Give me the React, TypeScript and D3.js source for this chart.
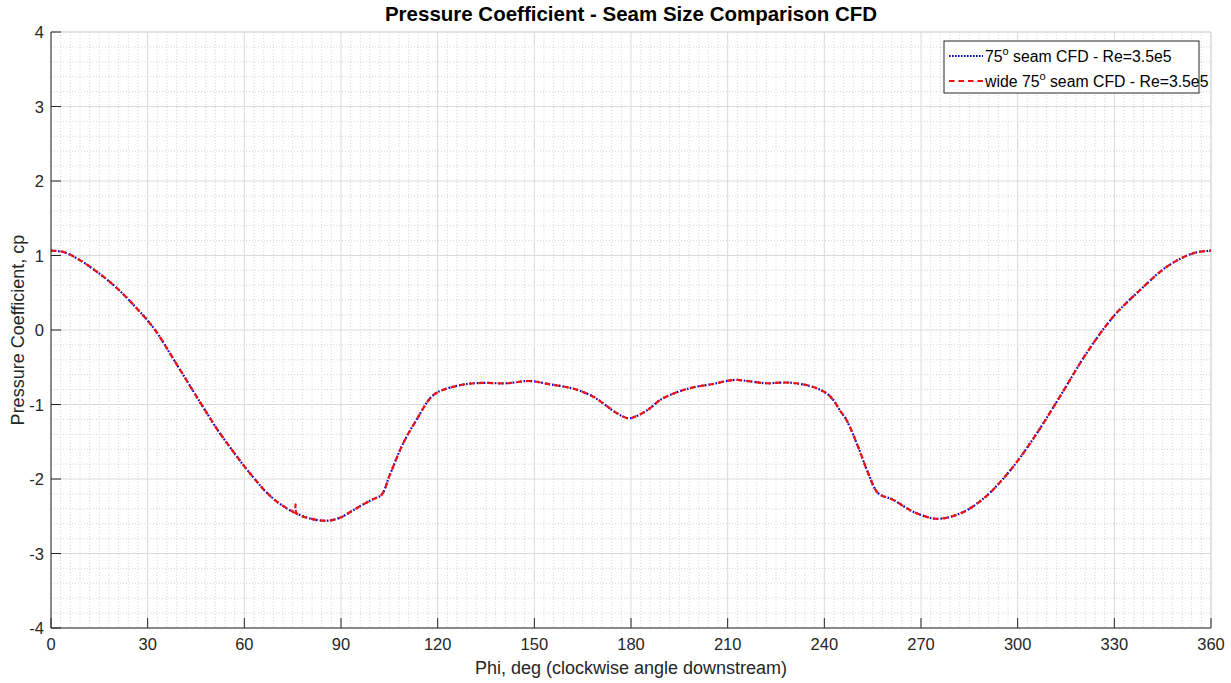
import React from "react";
import * as d3 from "d3";

// Circumferential angle (deg) and pressure coefficient samples
const phiStd: number[] = [
  0, 4, 8.5, 14, 20, 26, 32.3, 38, 43.7, 48, 52, 56, 60, 64, 66, 70, 74.7, 80.4, 85.6, 89.7,
  93, 96.9, 100, 102.6, 105.2, 109.3, 113.5, 117.6, 120.2, 125.9, 130, 134.2, 141.4, 147.6, 150,
  154.9, 158, 163.1, 168.3, 171.4, 175, 179.2, 182, 185.9, 189, 194, 199.3, 205.5, 209, 212.8,
  217, 222.1, 226.2, 229.3, 235.5, 238.5, 240.7, 242.8, 244.7, 246.9, 250.5, 253.6, 256.7, 261.4,
  267.6, 273.8, 276.5, 279, 284.2, 288.3, 292, 298.7, 305.9, 313.1, 321.4, 329.7, 338, 346.3,
  354.5, 360,
];
const cpStd: number[] = [
  1.065, 1.045, 0.95, 0.79, 0.58, 0.32, 0.0, -0.39, -0.79, -1.09, -1.36, -1.6, -1.83, -2.04, -2.14,
  -2.3, -2.43, -2.53, -2.56, -2.52, -2.44, -2.34, -2.27, -2.21, -1.94, -1.52, -1.2, -0.92, -0.83,
  -0.75, -0.72, -0.71, -0.715, -0.685, -0.69, -0.73, -0.75, -0.8, -0.895, -0.985, -1.1, -1.185,
  -1.15, -1.05, -0.94, -0.84, -0.77, -0.725, -0.69, -0.67, -0.69, -0.715, -0.707, -0.707, -0.75,
  -0.8, -0.85, -0.94, -1.07, -1.21, -1.57, -1.92, -2.19, -2.28, -2.44, -2.53, -2.53, -2.51, -2.42,
  -2.3, -2.16, -1.83, -1.39, -0.895, -0.31, 0.18, 0.537, 0.85, 1.03, 1.065,
];

const phiWide: number[] = [
  0, 4, 8.5, 14, 20, 26, 32.3, 38, 43.7, 48, 52, 56, 60, 64, 66, 70, 74.7, 75.6, 75.9, 76.2, 80.4,
  85.6, 89.7, 93, 96.9, 100, 102.6, 105.2, 109.3, 113.5, 117.6, 120.2, 125.9, 130, 134.2, 141.4,
  147.6, 150, 154.9, 158, 163.1, 168.3, 171.4, 175, 179.2, 182, 185.9, 189, 194, 199.3, 205.5, 209,
  212.8, 217, 222.1, 226.2, 229.3, 235.5, 238.5, 240.7, 242.8, 244.7, 246.9, 250.5, 253.6, 256.7,
  261.4, 267.6, 273.8, 276.5, 279, 284.2, 288.3, 292, 298.7, 305.9, 313.1, 321.4, 329.7, 338,
  346.3, 354.5, 360,
];
const cpWide: number[] = [
  1.065, 1.045, 0.95, 0.79, 0.58, 0.32, 0.0, -0.39, -0.79, -1.09, -1.36, -1.6, -1.83, -2.04, -2.14,
  -2.3, -2.43, -2.45, -2.34, -2.46, -2.53, -2.56, -2.52, -2.44, -2.34, -2.27, -2.21, -1.94, -1.52,
  -1.2, -0.92, -0.83, -0.75, -0.72, -0.71, -0.715, -0.685, -0.69, -0.73, -0.75, -0.8, -0.895,
  -0.985, -1.1, -1.185, -1.15, -1.05, -0.94, -0.84, -0.77, -0.725, -0.69, -0.67, -0.69, -0.715,
  -0.707, -0.707, -0.75, -0.8, -0.85, -0.94, -1.07, -1.21, -1.57, -1.92, -2.19, -2.28, -2.44, -2.53,
  -2.53, -2.51, -2.42, -2.3, -2.16, -1.83, -1.39, -0.895, -0.31, 0.18, 0.537, 0.85, 1.03, 1.065,
];

const xTicks: number[] = [0, 30, 60, 90, 120, 150, 180, 210, 240, 270, 300, 330, 360];
const yTicks: number[] = [-4, -3, -2, -1, 0, 1, 2, 3, 4];

const W = 1231;
const H = 683;
const M = { left: 51, right: 1211, top: 32, bottom: 628 };
const FONT = "'Liberation Sans', Arial, Helvetica, sans-serif";

export default function App() {
  const x = d3.scaleLinear().domain([0, 360]).range([M.left, M.right]);
  const y = d3.scaleLinear().domain([-4, 4]).range([M.bottom, M.top]);

  const xMinor = d3.range(0, 360.001, 3).filter((v) => v % 30 !== 0);
  const yMinor = d3.range(-4, 4.001, 0.2).filter((v) => Math.abs(v - Math.round(v)) > 1e-6);

  const line = d3
    .line<[number, number]>()
    .x((d) => x(d[0]))
    .y((d) => y(d[1]))
    .curve(d3.curveCatmullRom.alpha(0.5));

  const stdPath = line(phiStd.map((p, i) => [p, cpStd[i]]) as [number, number][]) || "";
  const widePath = line(phiWide.map((p, i) => [p, cpWide[i]]) as [number, number][]) || "";

  const axisColor = "#262626";
  const tickLen = 10;

  return (
    <svg
      width={W}
      height={H}
      style={{ position: "absolute", left: 0, top: 0, background: "#fff" }}
      fontFamily={FONT}
    >
      <rect x={0} y={0} width={W} height={H} fill="#fff" />
      <rect x={M.left} y={M.top} width={M.right - M.left} height={M.bottom - M.top} fill="#fff" />

      {/* minor grid */}
      <g stroke="#c0c0c0" strokeWidth={0.8} strokeDasharray="1,2" opacity={0.8}>
        {xMinor.map((v) => (
          <line key={"xm" + v} x1={x(v)} x2={x(v)} y1={M.top} y2={M.bottom} />
        ))}
        {yMinor.map((v) => (
          <line key={"ym" + v.toFixed(1)} x1={M.left} x2={M.right} y1={y(v)} y2={y(v)} />
        ))}
      </g>

      {/* major grid */}
      <g stroke="#dadada" strokeWidth={1}>
        {xTicks.map((v) => (
          <line key={"xg" + v} x1={x(v)} x2={x(v)} y1={M.top} y2={M.bottom} />
        ))}
        {yTicks.map((v) => (
          <line key={"yg" + v} x1={M.left} x2={M.right} y1={y(v)} y2={y(v)} />
        ))}
      </g>

      {/* top / right edges */}
      <line x1={M.left} x2={M.right} y1={M.top} y2={M.top} stroke="#d8d8d8" />
      <line x1={M.right} x2={M.right} y1={M.top} y2={M.bottom} stroke="#d8d8d8" />

      {/* data */}
      <path d={stdPath} fill="none" stroke="#0000d0" strokeWidth={2.2} strokeDasharray="1.6,2" />
      <path d={widePath} fill="none" stroke="#ee1111" strokeWidth={2.2} strokeDasharray="5.5,4" />

      {/* axes */}
      <line x1={M.left} x2={M.right} y1={M.bottom} y2={M.bottom} stroke={axisColor} />
      <line x1={M.left} x2={M.left} y1={M.top} y2={M.bottom} stroke={axisColor} />
      <g stroke={axisColor}>
        {xTicks.map((v) => (
          <line key={"xt" + v} x1={x(v)} x2={x(v)} y1={M.bottom} y2={M.bottom - tickLen} />
        ))}
        {yTicks.map((v) => (
          <line key={"yt" + v} x1={M.left} x2={M.left + tickLen} y1={y(v)} y2={y(v)} />
        ))}
      </g>
      <g fontSize={16.5} fill={axisColor}>
        {xTicks.map((v) => (
          <text key={"xl" + v} x={x(v)} y={M.bottom + 22} textAnchor="middle">
            {v}
          </text>
        ))}
        {yTicks.map((v) => (
          <text key={"yl" + v} x={M.left - 7} y={y(v) + 6} textAnchor="end">
            {v}
          </text>
        ))}
      </g>

      {/* labels */}
      <text
        x={(M.left + M.right) / 2}
        y={21}
        textAnchor="middle"
        fontSize={20.5}
        fontWeight="bold"
        fill="#000"
      >
        Pressure Coefficient - Seam Size Comparison CFD
      </text>
      <text x={(M.left + M.right) / 2} y={674} textAnchor="middle" fontSize={18} fill={axisColor}>
        Phi, deg (clockwise angle downstream)
      </text>
      <text
        transform={`translate(24,${(M.top + M.bottom) / 2}) rotate(-90)`}
        textAnchor="middle"
        fontSize={18}
        fill={axisColor}
      >
        Pressure Coefficient, cp
      </text>

      {/* legend */}
      <g>
        <rect x={944} y={41} width={255} height={52} fill="#fff" stroke="#262626" strokeWidth={1} />
        <line x1={949} x2={983} y1={56} y2={56} stroke="#0000d0" strokeWidth={2} strokeDasharray="1.6,1.4" />
        <line x1={949} x2={983} y1={81} y2={81} stroke="#ee1111" strokeWidth={2} strokeDasharray="5.5,4" />
        <text x={985} y={62} fontSize={15.8} fill="#000">
          75<tspan dy={-7} fontSize={11}>o</tspan>
          <tspan dy={7}> seam CFD - Re=3.5e5</tspan>
        </text>
        <text x={985} y={87} fontSize={15.8} fill="#000">
          wide 75<tspan dy={-7} fontSize={11}>o</tspan>
          <tspan dy={7}> seam CFD - Re=3.5e5</tspan>
        </text>
      </g>
    </svg>
  );
}
